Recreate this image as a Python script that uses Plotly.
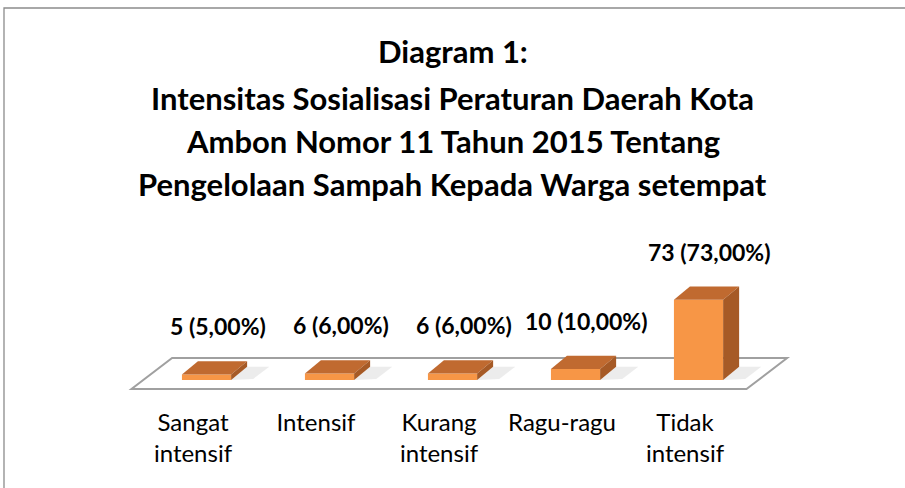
import plotly.graph_objects as go

# ---- data ----
categories = ["Sangat<br>intensif", "Intensif", "Kurang<br>intensif", "Ragu-ragu", "Tidak<br>intensif"]
counts = [5, 6, 6, 10, 73]
percents = ["5,00%", "6,00%", "6,00%", "10,00%", "73,00%"]
title_lines = [
    "Diagram 1:",
    "Intensitas Sosialisasi Peraturan Daerah Kota",
    "Ambon Nomor 11 Tahun 2015 Tentang",
    "Pengelolaan Sampah Kepada Warga setempat",
]

# ---- geometry / style ----
W, H = 905, 488
ML, MR, MT, MB = 70, 97, 270, 86
XR = [-1, 5]
YR = [-20, 100]
BAR_W = 0.4
BAR_OFF = -0.09
DX, DY = 0.13, 12          # 3D depth of bars (x units, y units)
FRONT = "#F79646"
TOP = "#C06A30"
SIDE = "#A65A26"
FONT = "Lato"

PW = W - ML - MR
PH = H - MT - MB


def px_x(px):
    return (px - ML) / PW


def px_y(py):
    return (H - MB - py) / PH


xs = list(range(len(categories)))

fig = go.Figure()
fig.add_trace(go.Bar(
    x=xs, y=counts, width=BAR_W, offset=BAR_OFF,
    marker=dict(color=FRONT, line=dict(width=0)),
    hoverinfo="skip", showlegend=False,
))

shapes = []
# floor
fx0, fx1 = -0.5, len(categories) - 0.5
fdx, fy0, fy1 = 0.33, -8.2, 20
shapes.append(dict(
    type="path", xref="x", yref="y", layer="below",
    path=f"M{fx0},{fy0} L{fx1},{fy0} L{fx1+fdx},{fy1} L{fx0+fdx},{fy1} Z",
    line=dict(color="#A0A0A0", width=2), fillcolor="white",
))
# soft shadows
for k, v in zip(xs, counts):
    x1 = k + BAR_OFF + BAR_W
    shapes.append(dict(
        type="path", xref="x", yref="y", layer="below",
        path=f"M{x1},{0} L{x1+0.18},{1} L{x1+0.18+DX},{DY} L{x1+DX},{DY} Z",
        line=dict(width=0), fillcolor="rgba(150,150,150,0.18)",
    ))
# 3D faces
for k, v in zip(xs, counts):
    x0 = k + BAR_OFF
    x1 = x0 + BAR_W
    shapes.append(dict(
        type="path", xref="x", yref="y", layer="above",
        path=f"M{x0},{v} L{x1},{v} L{x1+DX},{v+DY} L{x0+DX},{v+DY} Z",
        line=dict(width=0), fillcolor=TOP,
    ))
    shapes.append(dict(
        type="path", xref="x", yref="y", layer="above",
        path=f"M{x1},{0} L{x1},{v} L{x1+DX},{v+DY} L{x1+DX},{DY} Z",
        line=dict(width=0), fillcolor=SIDE,
    ))
# outer frame
shapes.append(dict(
    type="rect", xref="paper", yref="paper",
    x0=px_x(4), x1=px_x(912), y0=px_y(495), y1=px_y(8),
    line=dict(color="#8C8C8C", width=1.3), fillcolor="rgba(0,0,0,0)",
))

annotations = []
for k, v, p in zip(xs, counts, percents):
    annotations.append(dict(
        x=k + BAR_OFF + BAR_W / 2 + DX / 2, y=v + DY, xref="x", yref="y",
        text=f"<b>{v} ({p})</b>", showarrow=False, yanchor="middle", yshift=35,
        xshift=3, font=dict(family=FONT, size=23, color="#000000"),
    ))
for line, cy in zip(title_lines, [51, 97.5, 141, 184]):
    annotations.append(dict(
        x=px_x(452.5), y=px_y(cy), xref="paper", yref="paper",
        text=f"<b>{line}</b>", showarrow=False, xanchor="center", yanchor="middle",
        font=dict(family=FONT, size=31, color="#000000"),
    ))

fig.update_layout(
    width=W, height=H,
    margin=dict(l=ML, r=MR, t=MT, b=MB, pad=0),
    paper_bgcolor="white", plot_bgcolor="white",
    shapes=shapes, annotations=annotations,
    xaxis=dict(range=XR, tickvals=xs, ticktext=categories, showgrid=False,
               zeroline=False, showline=False, ticks="", ticklabelstandoff=4,
               tickfont=dict(family=FONT, size=24, color="#000000")),
    yaxis=dict(range=YR, visible=False),
    showlegend=False,
)

fig.write_html("out.html", config={"displayModeBar": False},
               post_script="document.body.style.margin='0';")
